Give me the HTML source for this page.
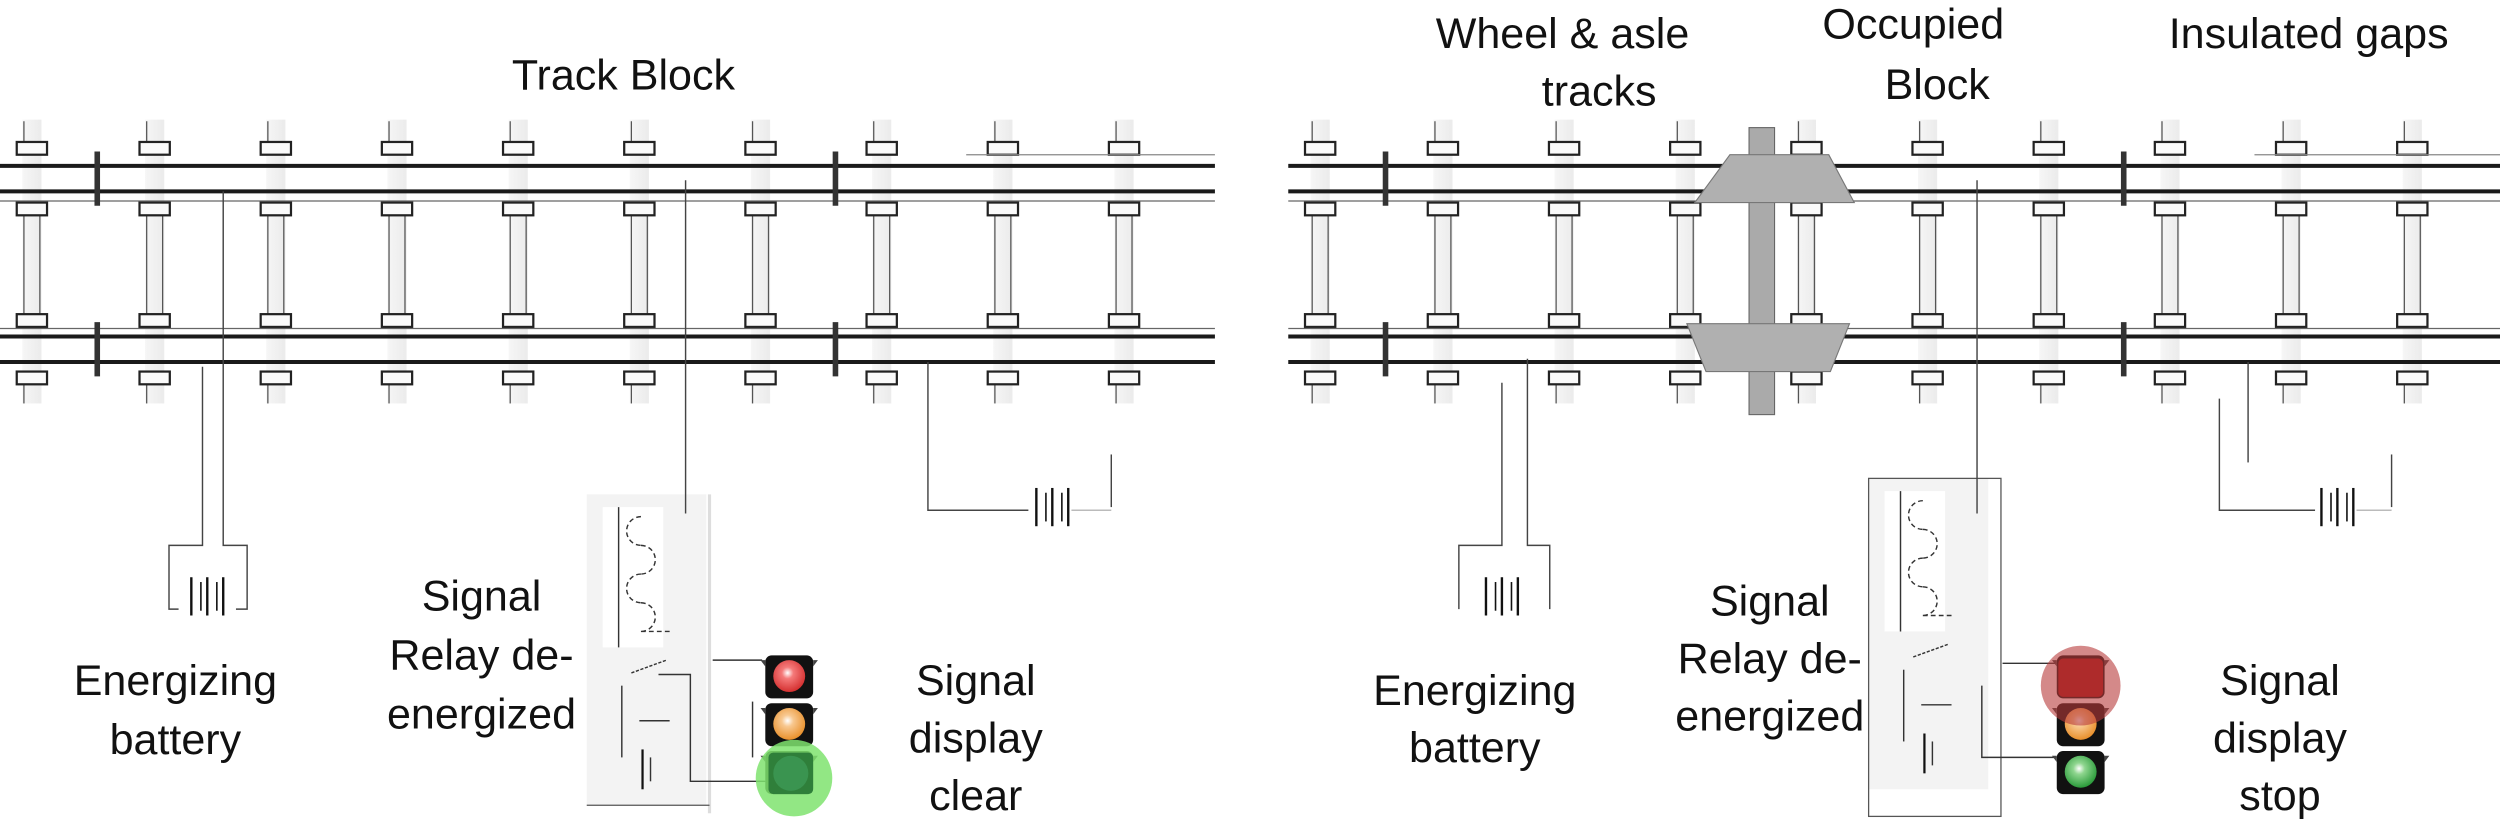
<!DOCTYPE html>
<html><head><meta charset="utf-8"><style>
html,body{margin:0;padding:0;background:#fff;}
svg{display:block;}
text{font-family:"Liberation Sans","DejaVu Sans",sans-serif;fill:#111;font-size:27px;text-anchor:middle;}
</style></head><body>
<svg width="2500" height="834" viewBox="0 0 1568 523" xmlns="http://www.w3.org/2000/svg">
<defs>
<linearGradient id="tg" x1="0" x2="1"><stop offset="0" stop-color="#f6f6f6"/><stop offset="1" stop-color="#ebebeb"/></linearGradient>
<g id="tie">
  <rect x="-6" y="75" width="12" height="178" fill="url(#tg)"/>
  <line x1="-5" y1="135" x2="-5" y2="197" stroke="#555" stroke-width="0.8"/>
  <line x1="5" y1="135" x2="5" y2="197" stroke="#555" stroke-width="0.8"/>
  <line x1="-5" y1="76" x2="-5" y2="89" stroke="#555" stroke-width="0.8"/>
  <line x1="-5" y1="241" x2="-5" y2="253" stroke="#555" stroke-width="0.8"/>
  <rect x="-9.5" y="89" width="19" height="8" fill="#fafafa" stroke="#222" stroke-width="1.4"/>
  <rect x="-9.5" y="127" width="19" height="8" fill="#fafafa" stroke="#222" stroke-width="1.4"/>
  <rect x="-9.5" y="197" width="19" height="8" fill="#fafafa" stroke="#222" stroke-width="1.4"/>
  <rect x="-9.5" y="233" width="19" height="8" fill="#fafafa" stroke="#222" stroke-width="1.4"/>
</g>
<g id="track">
  <use href="#tie" x="20"/><use href="#tie" x="97"/><use href="#tie" x="173"/><use href="#tie" x="249"/><use href="#tie" x="325"/>
  <use href="#tie" x="401"/><use href="#tie" x="477"/><use href="#tie" x="553"/><use href="#tie" x="629"/><use href="#tie" x="705"/>
  <line x1="0" y1="104" x2="762" y2="104" stroke="#1a1a1a" stroke-width="2.5"/>
  <line x1="0" y1="120" x2="762" y2="120" stroke="#1a1a1a" stroke-width="2.5"/>
  <line x1="0" y1="126" x2="762" y2="126" stroke="#666" stroke-width="0.8"/>
  <line x1="606" y1="97" x2="762" y2="97" stroke="#888" stroke-width="0.8"/>
  <line x1="0" y1="206" x2="762" y2="206" stroke="#666" stroke-width="0.8"/>
  <line x1="0" y1="211" x2="762" y2="211" stroke="#1a1a1a" stroke-width="2.5"/>
  <line x1="0" y1="227" x2="762" y2="227" stroke="#1a1a1a" stroke-width="2.5"/>
  <line x1="61" y1="95" x2="61" y2="129" stroke="#333" stroke-width="3.5"/>
  <line x1="61" y1="202" x2="61" y2="236" stroke="#333" stroke-width="3.5"/>
  <line x1="524" y1="95" x2="524" y2="129" stroke="#333" stroke-width="3.5"/>
  <line x1="524" y1="202" x2="524" y2="236" stroke="#333" stroke-width="3.5"/>
</g>
<g id="light">
  <rect x="-15" y="0" width="30" height="27" rx="4" fill="#111"/>
  <rect x="-15" y="30" width="30" height="27" rx="4" fill="#111"/>
  <rect x="-15" y="60" width="30" height="27" rx="4" fill="#111"/>
  <path d="M-18 3 h3 v4z M18 3 h-3 v4z M-18 33 h3 v4z M18 33 h-3 v4z M-18 63 h3 v4z M18 63 h-3 v4z" fill="#444"/>
</g>
<radialGradient id="rr" cx="0.45" cy="0.4" r="0.6"><stop offset="0" stop-color="#fff"/><stop offset="0.3" stop-color="#f57a7a"/><stop offset="1" stop-color="#d43030"/></radialGradient>
<radialGradient id="oo" cx="0.45" cy="0.4" r="0.6"><stop offset="0" stop-color="#fff"/><stop offset="0.3" stop-color="#f8c890"/><stop offset="1" stop-color="#e8902c"/></radialGradient>
<radialGradient id="gg" cx="0.45" cy="0.4" r="0.6"><stop offset="0" stop-color="#fff"/><stop offset="0.3" stop-color="#8fd68f"/><stop offset="1" stop-color="#2a9a3a"/></radialGradient>
<g id="battery">
  <line x1="0" y1="0" x2="0" y2="24" stroke="#111" stroke-width="1.5"/>
  <line x1="6" y1="3" x2="6" y2="21" stroke="#111" stroke-width="1"/>
  <line x1="10" y1="0" x2="10" y2="24" stroke="#111" stroke-width="1.5"/>
  <line x1="16" y1="3" x2="16" y2="21" stroke="#111" stroke-width="1"/>
  <line x1="20" y1="0" x2="20" y2="24" stroke="#111" stroke-width="1.5"/>
</g>
<g id="relay">
  <rect x="0" y="0" width="75" height="195" fill="#f3f3f3"/>
  <rect x="10" y="8" width="38" height="88" fill="#fff"/>
  <path d="M34 14 a9 9 0 0 0 0 18 M34 32 a9 9 0 0 1 0 18 M34 50 a9 9 0 0 0 0 18 M34 68 a9 9 0 0 1 0 18 M34 86 a5 5 0 0 0 0 0 h18" fill="none" stroke="#333" stroke-width="0.9" stroke-dasharray="3 2"/>
  <line x1="20" y1="8" x2="20" y2="96" stroke="#333" stroke-width="0.9"/>
  <line x1="22" y1="120" x2="22" y2="165" stroke="#333" stroke-width="0.9"/>
  <line x1="28" y1="112" x2="50" y2="104" stroke="#333" stroke-width="0.9" stroke-dasharray="2 1"/>
  <line x1="33" y1="142" x2="52" y2="142" stroke="#333" stroke-width="0.9"/>
  <line x1="35" y1="160" x2="35" y2="185" stroke="#111" stroke-width="1.4"/>
  <line x1="40" y1="165" x2="40" y2="180" stroke="#333" stroke-width="0.9"/>
</g>
</defs>

<!-- LEFT -->
<use href="#track"/>
<text x="391" y="56">Track Block</text>
<path d="M140 120 V342 H155 V382 H148" fill="none" stroke="#444" stroke-width="0.9"/>
<path d="M127 230 V342 H106 V382 H112" fill="none" stroke="#444" stroke-width="0.9"/>
<use href="#battery" x="120" y="362"/>
<text x="110" y="436">Energizing</text>
<text x="110" y="473">battery</text>
<use href="#relay" x="368" y="310"/>
<line x1="445" y1="310" x2="445" y2="510" stroke="#ddd" stroke-width="2"/>
<line x1="368" y1="505" x2="445" y2="505" stroke="#555" stroke-width="0.8"/>
<line x1="430" y1="113" x2="430" y2="322" stroke="#444" stroke-width="0.9"/>
<g stroke="#333" stroke-width="0.9" fill="none">
<path d="M413 423 H433 V490 H480"/>
<path d="M447 414 H478"/>
<path d="M472 440 V475"/>
</g>
<text x="302" y="383">Signal</text>
<text x="302" y="420">Relay de-</text>
<text x="302" y="457">energized</text>
<use href="#light" x="495" y="411"/>
<circle cx="495" cy="424" r="10" fill="url(#rr)"/>
<circle cx="495" cy="454" r="10" fill="url(#oo)"/>
<circle cx="498" cy="488" r="24" fill="#7fe36e" opacity="0.85"/>
<rect x="482" y="472" width="28" height="26" rx="3" fill="#2f7f3a"/>
<circle cx="496" cy="485" r="11" fill="#3a9450"/>
<text x="612" y="436">Signal</text>
<text x="612" y="472">display</text>
<text x="612" y="508">clear</text>
<path d="M582 227 V320 H645" fill="none" stroke="#444" stroke-width="0.9"/>
<path d="M672 320 H697" fill="none" stroke="#bbb" stroke-width="0.9"/>
<line x1="697" y1="285" x2="697" y2="318" stroke="#444" stroke-width="0.9"/>
<use href="#battery" x="650" y="306"/>

<!-- RIGHT -->
<use href="#track" x="808"/>
<rect x="1097" y="80" width="16" height="180" fill="#aaa" stroke="#666" stroke-width="0.7"/>
<path d="M1085 97 H1147 L1163 127 H1063 Z" fill="#b0b0b0" stroke="#777" stroke-width="0.7"/>
<path d="M1058 203 H1160 L1148 233 H1070 Z" fill="#b0b0b0" stroke="#777" stroke-width="0.7"/>
<text x="980" y="30">Wheel &amp; asle</text>
<text x="1003" y="66">tracks</text>
<text x="1200" y="24">Occupied</text>
<text x="1215" y="62">Block</text>
<text x="1448" y="30">Insulated gaps</text>
<path d="M958 225 V342 H972 V382" fill="none" stroke="#444" stroke-width="0.9"/>
<path d="M942 240 V342 H915 V382" fill="none" stroke="#444" stroke-width="0.9"/>
<use href="#battery" x="932" y="362"/>
<text x="925" y="442">Energizing</text>
<text x="925" y="478">battery</text>
<use href="#relay" x="1172" y="300"/>
<rect x="1172" y="300" width="83" height="212" fill="none" stroke="#555" stroke-width="0.8"/>
<line x1="1240" y1="113" x2="1240" y2="322" stroke="#444" stroke-width="0.9"/>
<g stroke="#333" stroke-width="0.9" fill="none">
<path d="M1256 416 H1290"/>
<path d="M1243 430 V475 H1290"/>
</g>
<text x="1110" y="386">Signal</text>
<text x="1110" y="422">Relay de-</text>
<text x="1110" y="458">energized</text>
<use href="#light" x="1305" y="411"/>
<circle cx="1305" cy="454" r="10" fill="url(#oo)"/>
<circle cx="1305" cy="484" r="10" fill="url(#gg)"/>
<rect x="1291" y="413" width="28" height="24" rx="3" fill="#a01515"/>
<circle cx="1305" cy="430" r="25" fill="#b83a3a" opacity="0.6"/>
<text x="1430" y="436">Signal</text>
<text x="1430" y="472">display</text>
<text x="1430" y="508">stop</text>
<line x1="1410" y1="227" x2="1410" y2="290" stroke="#444" stroke-width="0.9"/>
<path d="M1392 250 V320 H1452" fill="none" stroke="#444" stroke-width="0.9"/>
<path d="M1478 320 H1500" fill="none" stroke="#bbb" stroke-width="0.9"/>
<line x1="1500" y1="285" x2="1500" y2="318" stroke="#444" stroke-width="0.9"/>
<use href="#battery" x="1456" y="306"/>
</svg>
</body></html>
